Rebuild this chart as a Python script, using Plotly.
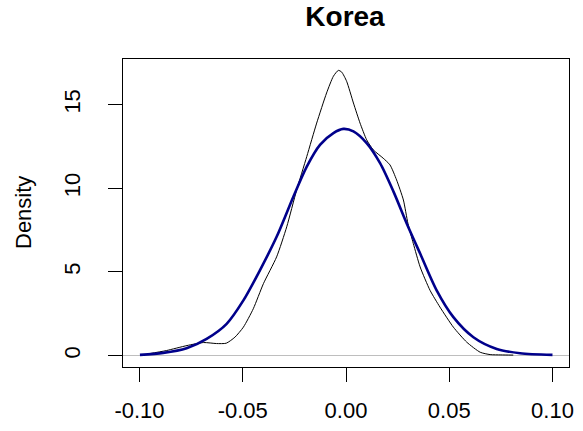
import plotly.graph_objects as go

# Empirical (kernel) density of returns - thin black line
emp_x = [-0.096, -0.087, -0.077, -0.069, -0.0627, -0.058, -0.0538, -0.0497, -0.0449, -0.040,
         -0.0336, -0.0287, -0.0239, -0.019, -0.0142, -0.0094, -0.0061, -0.0037, -0.0021, 0.0003,
         0.0036, 0.0068, 0.010, 0.0132, 0.018, 0.0213, 0.0245, 0.0278, 0.030, 0.0326,
         0.0359, 0.0407, 0.0455, 0.052, 0.0585, 0.065, 0.0698, 0.075, 0.081]
emp_y = [0.1, 0.3, 0.6, 0.78, 0.72, 0.74, 1.1, 1.7, 2.8, 4.3,
         5.9, 7.7, 9.9, 11.9, 13.9, 15.7, 16.7, 17.05, 16.95, 16.4,
         15.1, 13.9, 12.9, 12.3, 11.8, 11.4, 10.5, 9.3, 7.9, 6.7,
         5.3, 3.9, 2.9, 1.7, 0.8, 0.2, 0.06, 0.04, 0.03]

# Fitted normal density - thick blue line
norm_x = [-0.0998, -0.0885, -0.0772, -0.0675, -0.0578, -0.0497, -0.0417, -0.0336, -0.0255, -0.019,
          -0.0126, -0.0061, -0.0013, 0.0036, 0.010, 0.0165, 0.023, 0.0294, 0.0359, 0.0439,
          0.052, 0.0617, 0.073, 0.0843, 0.100]
norm_y = [0.04, 0.16, 0.44, 1.0, 1.9, 3.3, 5.1, 7.1, 9.5, 11.3,
          12.6, 13.3, 13.55, 13.4, 12.7, 11.5, 9.8, 7.9, 6.1, 3.9,
          2.3, 1.1, 0.4, 0.14, 0.04]

x_ticks = [-0.10, -0.05, 0.00, 0.05, 0.10]
x_tick_labels = ["-0.10", "-0.05", "0.00", "0.05", "0.10"]
y_ticks = [0, 5, 10, 15]
y_tick_labels = ["0", "5", "10", "15"]

FONT = "Liberation Sans, Arial, sans-serif"

fig = go.Figure()
fig.add_trace(go.Scatter(x=emp_x, y=emp_y, mode="lines",
                         line=dict(color="black", width=1, shape="spline", smoothing=0.6),
                         showlegend=False, hoverinfo="skip"))
fig.add_trace(go.Scatter(x=norm_x, y=norm_y, mode="lines",
                         line=dict(color="#00008B", width=2.6, shape="spline", smoothing=0.8),
                         showlegend=False, hoverinfo="skip"))

fig.update_layout(
    width=583, height=431,
    margin=dict(l=123, r=14, t=59, b=64, autoexpand=False),
    paper_bgcolor="white", plot_bgcolor="white",
    font=dict(family=FONT, size=22, color="black"),
    title=dict(text="<b>Korea</b>", x=(345) / 583, xanchor="center",
               y=1 - 16 / 431, yanchor="middle", yref="container",
               font=dict(family=FONT, size=28, color="black")),
    showlegend=False,
)
fig.update_xaxes(range=[-0.108, 0.108], tickvals=x_ticks, ticktext=x_tick_labels,
                 ticks="outside", ticklen=14, tickwidth=1, tickcolor="black",
                 showline=True, linecolor="black", linewidth=1, mirror=True,
                 showgrid=False, zeroline=False, ticklabelstandoff=10, automargin=False,
                 tickfont=dict(family=FONT, size=22, color="black"))
fig.update_yaxes(range=[-0.682, 17.73], tickvals=y_ticks, ticktext=y_tick_labels,
                 ticks="outside", ticklen=14, tickwidth=1, tickcolor="black",
                 showline=True, linecolor="black", linewidth=1, mirror=True,
                 showgrid=False, zeroline=True, zerolinecolor="#BEBEBE", zerolinewidth=1,
                 tickangle=-90, ticklabelstandoff=19, automargin=False,
                 tickfont=dict(family=FONT, size=22, color="black"))
fig.add_annotation(text="Density", xref="paper", yref="paper",
                   x=(23 - 123) / 446, y=0.5, xanchor="center", yanchor="middle",
                   textangle=-90, showarrow=False,
                   font=dict(family=FONT, size=22, color="black"))

fig.write_html("out.html")
